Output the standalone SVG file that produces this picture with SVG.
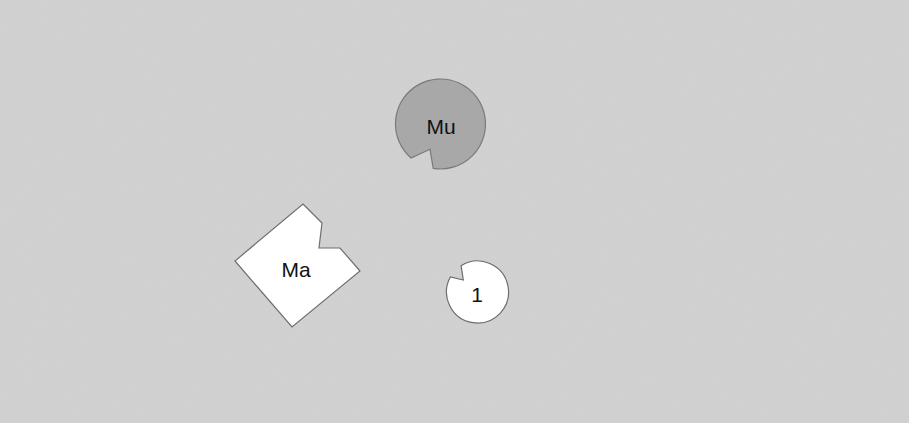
<svg xmlns="http://www.w3.org/2000/svg" width="909" height="423" viewBox="0 0 909 423">
<defs>
<filter id="grain" x="0" y="0" width="100%" height="100%">
<feTurbulence type="fractalNoise" baseFrequency="0.9" numOctaves="1" seed="3" result="n"/>
<feColorMatrix type="matrix" values="0 0 0 0 0.5  0 0 0 0 0.5  0 0 0 0 0.5  0 0 0 0.35 -0.05"/>
</filter>
<style>
.shape{stroke:#6e6e6e;stroke-width:1.2;stroke-linejoin:miter}
.white{fill:#ffffff}
.grey{fill:#a8a8a8;stroke:#7a7a7a}
.lbl{font-family:"Liberation Sans",Arial,sans-serif;font-size:21px;fill:#111111;text-anchor:middle}
</style>
</defs>
<rect x="0" y="0" width="909" height="423" fill="#d2d2d2"/>
<rect x="0" y="0" width="909" height="423" filter="url(#grain)" opacity="0.5"/>
<g id="connectors"></g>
<g id="node-mu">
<path class="shape grey" d="M 433.2 168.4 A 45 45 0 1 0 411 158 L 430 149.3 Z"/>
<text class="lbl" x="441" y="134">Mu</text>
</g>
<g id="node-ma">
<path class="shape white" d="M 303 204 L 322 223 L 319 248 L 340 248 L 360 271 L 292 327 L 235 261 Z"/>
<text class="lbl" x="296" y="277">Ma</text>
</g>
<g id="node-1">
<path class="shape white" d="M 461.1 265.7 A 31 31 0 1 1 450.4 277 L 463.3 280 Z"/>
<text class="lbl" x="477" y="302">1</text>
</g>
</svg>
